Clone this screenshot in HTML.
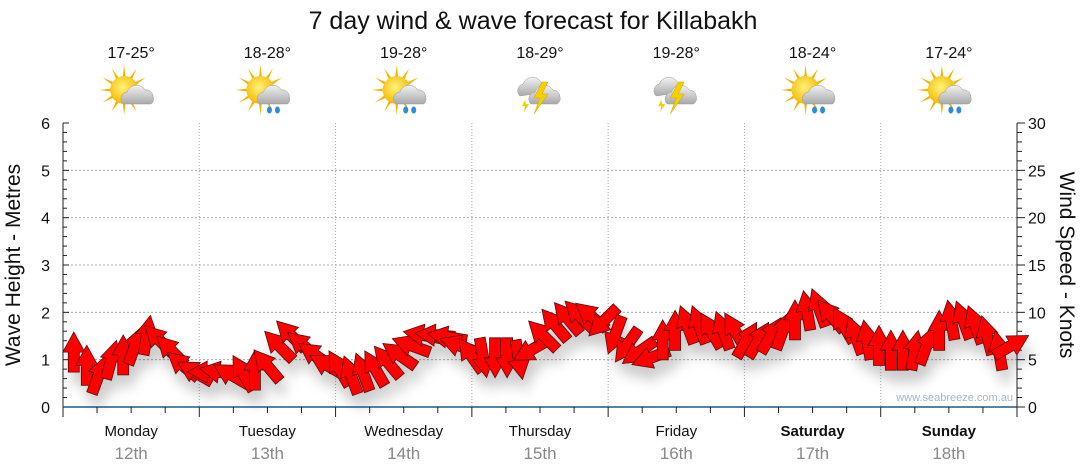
<!DOCTYPE html>
<html><head><meta charset="utf-8">
<style>
body{margin:0;background:#fff;}
svg{display:block;font-family:"Liberation Sans","DejaVu Sans",sans-serif;}
</style></head>
<body>
<svg id="chart" width="1080" height="475" viewBox="0 0 1080 475">
<defs>
<filter id="sh" x="-50%" y="-50%" width="200%" height="200%">
<feDropShadow dx="4" dy="12" stdDeviation="6" flood-color="#000" flood-opacity="0.2"/>
</filter>
<radialGradient id="sun" cx="0.45" cy="0.4" r="0.6"><stop offset="0" stop-color="#fff27a"/><stop offset="1" stop-color="#f5b800"/></radialGradient>
<linearGradient id="cloud" x1="0" y1="0" x2="0" y2="1"><stop offset="0" stop-color="#f2f2f2"/><stop offset="1" stop-color="#a8a8a8"/></linearGradient>
</defs>
<text x="533" y="29" text-anchor="middle" font-size="25" fill="#111">7 day wind &amp; wave forecast for Killabakh</text>
<g id="grid"></g>
<g id="axes"></g>
<g id="icons"></g>
<g id="arrows" filter="url(#sh)"></g>
<text x="1013" y="401" text-anchor="end" font-size="11" fill="#a9b4c4">www.seabreeze.com.au</text>
<text transform="translate(20,265) rotate(-90)" text-anchor="middle" font-size="21" fill="#111">Wave Height - Metres</text>
<text transform="translate(1060,265) rotate(90)" text-anchor="middle" font-size="21" fill="#111">Wind Speed - Knots</text>
</svg>
<script>
const days = ["Monday","Tuesday","Wednesday","Thursday","Friday","Saturday","Sunday"];
const dates = ["12th","13th","14th","15th","16th","17th","18th"];
const temps = ["17-25°","18-28°","19-28°","18-29°","19-28°","18-24°","17-24°"];
const weather = ["cloudsun","showersun","showersun","storm","storm","showersun","showersun"];
const waveTicks = [0,1,2,3,4,5,6];
const windTicks = [0,5,10,15,20,25,30];
const hours = [1.9,4.2,6.3,8.5,10.6,12.7,14.8,16.9,19.0,21.1,23.2,
 25.4,27.5,29.6,31.7,33.8,35.9,38.0,40.1,42.3,44.4,46.5,
 48.6,50.7,52.8,54.9,57.1,59.2,61.3,63.4,65.5,67.6,69.7,71.8,
 74.0,76.1,78.2,80.3,82.4,84.5,86.6,88.8,90.9,93.0,95.1,
 97.2,99.3,101.4,103.5,105.6,107.8,109.9,112.0,114.1,116.2,118.3,
 120.4,122.5,124.7,126.8,128.9,131.0,133.1,135.2,137.4,139.5,141.6,143.7,
 145.8,147.9,150.0,152.1,154.3,156.4,158.5,160.6,162.7,164.8,167.0];
const windSpeed = [5.8,4.4,3.4,5.0,5.5,6.5,7.6,7.1,6.0,4.4,3.7,
 3.7,3.7,3.4,3.6,3.9,4.4,6.5,7.6,6.5,5.5,4.4,
 4.1,3.4,3.7,4.1,4.8,5.5,6.5,7.6,7.6,7.4,6.5,5.5,
 5.2,5.2,5.2,5.0,6.0,7.6,8.7,9.4,9.7,9.6,9.0,
 7.6,6.5,5.8,5.2,7.1,8.1,8.7,8.7,8.1,8.1,8.1,
 7.1,7.1,7.6,8.1,9.2,10.2,10.5,9.7,8.7,7.6,7.1,6.5,
 6.0,6.0,6.0,6.5,8.1,9.2,9.2,8.7,7.6,6.0,6.5];
const windDir = [0,0,20,15,0,20,10,-45,-45,-50,-60,
 -90,-80,-60,-30,0,-40,-45,-45,-50,-55,-60,
 -30,-20,-20,-30,-40,-55,-70,-80,-85,-80,-70,-35,
 170,180,180,170,-120,-45,-40,-40,-45,-50,-135,
 -160,-145,-125,-110,0,0,-20,-20,-30,-20,-30,
 30,30,30,20,0,-10,-20,-40,-30,-20,-10,0,
 0,0,10,20,0,-10,-20,-20,-15,-10,60];

const NS="http://www.w3.org/2000/svg";
const X0=63, X1=1017, Y0=407, Y1=123;
const xH = h => X0 + (X1-X0)*h/168;
const yWave = m => Y0 - (Y0-Y1)*m/6;
const yWind = k => Y0 - (Y0-Y1)*k/30;
function mk(tag, attrs, parent){const e=document.createElementNS(NS,tag);for(const k in attrs)e.setAttribute(k,attrs[k]);parent.appendChild(e);return e;}
const grid=document.getElementById('grid'), axes=document.getElementById('axes'), icons=document.getElementById('icons'), arrows=document.getElementById('arrows');

waveTicks.forEach(m=>{
  if(m>0&&m<6){const l=mk('line',{x1:X0,x2:X1,y1:yWave(m),y2:yWave(m),stroke:'#aaa','stroke-dasharray':'2,2'},grid);
  
  }
  const t=mk('text',{x:X0-13,y:yWave(m)+6,'text-anchor':'end','font-size':16,fill:'#111'},axes);t.textContent=m;
  
  
});
for(let i=0;i<=30;i++){const y=Y0-(Y0-Y1)*i/30;mk('line',{x1:X0,x2:X0+(i%5==0?6:4),y1:y,y2:y,stroke:'#222'},axes);mk('line',{x1:X1,x2:X1+(i%5==0?8:5),y1:y,y2:y,stroke:'#222'},axes);}
windTicks.forEach(k=>{
  const t=mk('text',{x:X1+11,y:yWind(k)+6,'font-size':16,fill:'#111'},axes);t.textContent=k;
  
  
});
mk('line',{x1:X0,x2:X0,y1:Y1,y2:Y0+8,stroke:'#222'},axes);
mk('line',{x1:X1,x2:X1,y1:Y1,y2:Y0,stroke:'#222'},axes);
mk('line',{x1:X0,x2:X1,y1:Y0,y2:Y0,stroke:'#1d5a85','stroke-width':1.5},axes);
for(let h=0;h<=168;h+=6){mk('line',{x1:xH(h),x2:xH(h),y1:Y0,y2:Y0+(h%24==0?10:6),stroke:'#222'},axes);}
days.forEach((d,i)=>{
  const cx=xH(i*24+12);
  if(i>0){const l=mk('line',{x1:xH(i*24),x2:xH(i*24),y1:Y1,y2:Y0,stroke:'#aaa','stroke-dasharray':'1,2'},grid);
  
  }
  const t=mk('text',{x:cx,y:436,'text-anchor':'middle','font-size':15,fill:'#111','font-weight':i>=5?'bold':'normal'},axes);t.textContent=d;
  
  
  const t2=mk('text',{x:cx,y:459,'text-anchor':'middle','font-size':17,fill:'#888'},axes);t2.textContent=dates[i];
  
  
  const t3=mk('text',{x:cx,y:58,'text-anchor':'middle','font-size':16,fill:'#111'},icons);t3.textContent=temps[i];
  
  
  const g=mk('g',{transform:`translate(${cx},94)`},icons);
  
  
  const w=weather[i];
  if(w!=='storm'){
    for(let r=0;r<12;r++){const a=r*30;mk('polygon',{points:'-3,0 3,0 0,-25',fill:'#f3b400',transform:`translate(-7,-4) rotate(${a})`},g);}
    mk('circle',{cx:-7,cy:-4,r:14,fill:'url(#sun)'},g);
    mk('path',{d:'M-8,10 a7,7 0 0 1 4,-12 a10,10 0 0 1 18,-2 a7,7 0 0 1 8,7 a6,6 0 0 1 -2,7 z',fill:'url(#cloud)',stroke:'#999','stroke-width':0.5},g);
    if(w==='showersun'){[2,10].forEach(dx=>mk('ellipse',{cx:dx,cy:16,rx:2.5,ry:3.5,fill:'#2b8fd8'},g));}
  } else {
    mk('path',{d:'M-20,2 a7,7 0 0 1 3,-12 a10,10 0 0 1 18,-2 a7,7 0 0 1 6,10 z',fill:'url(#cloud)',stroke:'#999','stroke-width':0.5},g);
    mk('path',{d:'M-9,10 a7,7 0 0 1 4,-12 a10,10 0 0 1 18,-2 a7,7 0 0 1 7,7 a6,6 0 0 1 -3,7 z',fill:'url(#cloud)',stroke:'#999','stroke-width':0.5},g);
    mk('polygon',{points:'2,-12 -6,4 0,4 -6,20 8,0 2,0 8,-12',fill:'#f5d000',stroke:'#d9a400','stroke-width':0.5},g);
    mk('polygon',{points:'-15,6 -18,12 -15,12 -16,18 -11,10 -14,10',fill:'#f5d000'},g);
  }
});
hours.forEach((h,i)=>{
  const p=mk('polygon',{points:'-5.5,20 -5.5,0 -11,0 0,-20 11,0 5.5,0 5.5,20',fill:'#ff0000',stroke:'#5a0a0a','stroke-width':0.8,'stroke-linejoin':'miter',transform:`translate(${xH(h).toFixed(1)},${yWind(windSpeed[i]).toFixed(1)}) rotate(${windDir[i]})`},arrows);
  
  
});
</script>
</body></html>
